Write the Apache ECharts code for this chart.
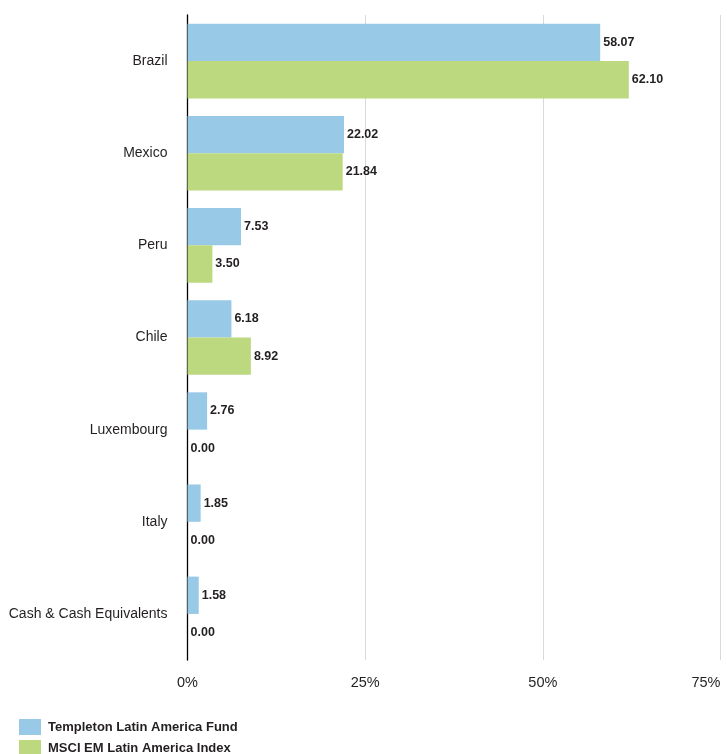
<!DOCTYPE html>
<html><head><meta charset="utf-8">
<script src="https://cdn.jsdelivr.net/npm/echarts@6/dist/echarts.min.js"></script>
<style>html,body{margin:0;padding:0;background:#fff}#c{width:727px;height:754px}</style>
</head><body><div id="c"></div>
<script>
const categories = ['Brazil','Mexico','Peru','Chile','Luxembourg','Italy','Cash & Cash Equivalents'];
const fundValues = [58.07,22.02,7.53,6.18,2.76,1.85,1.58];
const indexValues = [62.10,21.84,3.50,8.92,0.00,0.00,0.00];
const seriesNames = ['Templeton Latin America Fund','MSCI EM Latin America Index'];
const xTicks = [0,25,50,75];

const FONT = '"Liberation Sans","Arial",sans-serif';
const chart = echarts.init(document.getElementById('c'));
const lbl = {show:true,position:'right',distance:3,color:'#231f20',fontFamily:FONT,fontWeight:'bold',fontSize:12.5,
  formatter:p=>p.value.toFixed(2)};
chart.setOption({
  animation:false,
  grid:{left:187.5,right:6.5,top:15,bottom:94,outerBoundsMode:'none',containLabel:false},
  legend:{orient:'vertical',left:19,top:719,height:100,padding:0,itemWidth:22,itemHeight:16,itemGap:5,icon:'rect',
    textStyle:{color:'#231f20',fontFamily:FONT,fontWeight:'bold',fontSize:13,padding:[0,0,0,2]},
    data:seriesNames},
  xAxis:{type:'value',min:xTicks[0],max:xTicks[xTicks.length-1],interval:25,
    axisLine:{show:false},axisTick:{show:false},
    splitLine:{lineStyle:{color:'#d9d9d9',width:1}},
    axisLabel:{formatter:'{value}%',color:'#231f20',fontFamily:FONT,fontSize:14.5,margin:15,alignMaxLabel:'right'}},
  yAxis:{type:'category',data:categories,inverse:true,
    axisLine:{lineStyle:{color:'#000',width:1.3}},axisTick:{show:false},
    axisLabel:{color:'#231f20',fontFamily:FONT,fontSize:14,margin:20}},
  series:[
    {name:seriesNames[0],type:'bar',data:fundValues,barGap:'0%',barCategoryGap:'19%',itemStyle:{color:'#98c9e6'},label:lbl},
    {name:seriesNames[1],type:'bar',data:indexValues,barGap:'0%',barCategoryGap:'19%',itemStyle:{color:'#bcd980'},label:lbl}
  ]
});
</script></body></html>
